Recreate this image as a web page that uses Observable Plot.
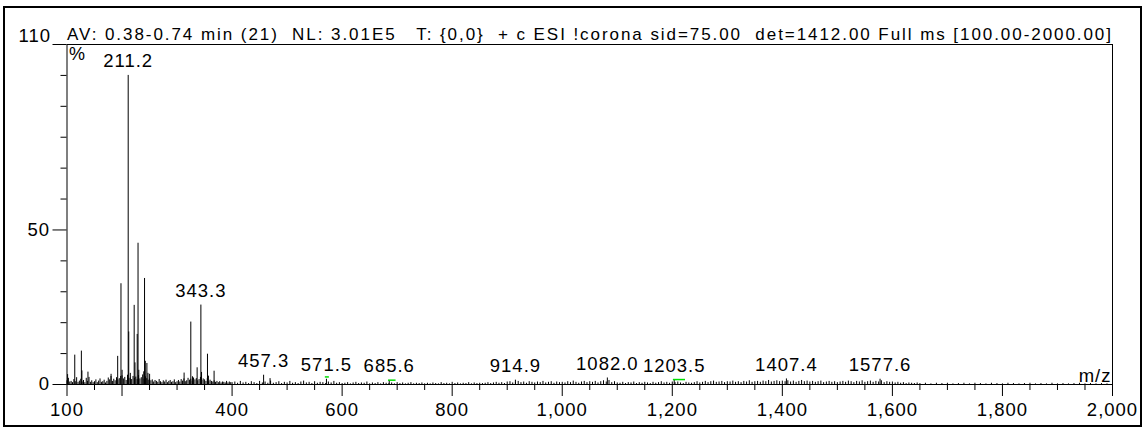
<!DOCTYPE html>
<html>
<head>
<meta charset="utf-8">
<script src="https://cdn.jsdelivr.net/npm/d3@7"></script>
<script src="https://cdn.jsdelivr.net/npm/@observablehq/plot@0.6"></script>
<style>
  html, body { margin: 0; padding: 0; background: #fff; }
  #wrap { position: relative; width: 1144px; height: 432px; overflow: hidden; background: #fff; }
  #wrap svg { position: absolute; left: 0; top: 0; }
  #wrap svg text { white-space: pre; }
  #border { position: absolute; left: 3px; top: 6px; width: 1139px; height: 421px; box-sizing: border-box; border: 2px solid #000; pointer-events: none; }
</style>
</head>
<body>
<div id="wrap"><div id="border"></div></div>
<script>
// ---- Header ----
const headerText = "AV: 0.38-0.74 min (21)  NL: 3.01E5   T: {0,0}  + c ESI !corona sid=75.00  det=1412.00 Full ms [100.00-2000.00]";

// ---- Main peaks (m/z, relative abundance %) ----
const peakMz  = [101.1, 114.1, 126.1, 127.1, 138.1, 180.1, 192.1, 198.1, 200.1, 211.2, 212.2, 215.1, 222.1, 223.5, 227.6, 229.1, 230.5, 239.5, 240.9, 242.3, 245.2, 247.1, 250.1, 312.8, 325.0, 328.0, 336.5, 343.3, 344.5, 355.3, 357.0, 367.3, 457.3, 469.0, 571.5, 685.6, 914.9, 1082.0, 1203.5, 1407.4, 1577.6];
const peakInt = [3.2, 9.5, 10.8, 4.4, 4.0, 3.3, 9.1, 32.6, 4.6, 100, 17.0, 3.6, 25.6, 7.0, 16.2, 45.7, 4.6, 4.1, 34.3, 7.5, 6.8, 3.6, 3.3, 3.7, 20.2, 2.5, 5.4, 25.7, 3.9, 9.8, 2.7, 4.3, 3.0, 1.9, 1.7, 1.3, 1.4, 2.1, 1.5, 1.8, 1.7];

// ---- Annotated peaks ----
const labelMz  = [211.2, 343.3, 457.3, 571.5, 685.6, 914.9, 1082.0, 1203.5, 1407.4, 1577.6];
const labelInt = [100, 25.7, 3.0, 1.7, 1.3, 1.4, 2.1, 1.5, 1.8, 1.7];

// ---- Baseline noise ----
const noiseAStart = 100, noiseAStep = 2.5;
const noiseA = [
  1.2, 2.0, 0.8, 1.0, 0.6, 1.6, 0.9, 2.2, 0.7, 1.1,
  1.7, 0.8, 1.3, 0.6, 2.0, 1.0, 2.3, 0.7, 1.2, 0.6,
  0.9, 1.5, 0.6, 1.1, 1.8, 0.7, 0.9, 1.4, 0.5, 1.0,
  2.1, 1.5, 2.6, 1.0, 1.7, 1.2, 2.2, 1.5, 1.9, 2.6,
  2.8, 1.8, 2.3, 1.3, 3.0, 1.9, 2.1, 1.6, 2.6, 2.0,
  2.4, 1.6, 2.9, 1.8, 2.2, 3.1, 1.7, 2.5, 1.9, 1.4,
  1.8, 1.2, 1.5, 0.8, 1.3, 1.0, 0.7, 1.6, 0.9, 0.6,
  1.2, 0.8, 1.4, 0.6, 1.0, 1.3, 0.7, 0.9, 1.5, 0.6,
  0.9, 1.3, 0.8, 1.6, 1.1, 1.8, 0.9, 1.2, 2.0, 1.4,
  1.7, 1.1, 2.1, 1.5, 1.9, 1.2, 1.6, 2.3, 1.3, 1.8,
  1.5, 1.0, 1.9, 0.9, 1.4, 1.0, 0.8, 1.2, 0.7, 1.0,
  0.6, 0.9, 0.5, 0.8, 0.7, 0.5, 1.0, 0.5, 0.8, 0.6,
  0.6
];
const noiseBStart = 405, noiseBStep = 5;
const noiseB = [
  0.8, 0.4, 1.0, 0.5, 0.7, 0.3, 0.9, 0.6, 0.3, 1.0,
  0.5, 0.8, 0.4, 1.1, 0.4, 0.6, 0.9, 0.3, 0.7, 0.5,
  1.0, 0.4, 0.6, 0.3, 0.8, 1.1, 0.5, 0.7, 0.3, 0.9,
  0.4, 0.7, 0.6, 0.3, 0.8, 0.5, 1.0, 0.4, 0.6, 0.3,
  0.4, 0.6, 0.2, 0.5, 0.7, 0.3, 0.5, 0.4, 0.8, 0.2,
  0.5, 0.3, 0.6, 0.2, 0.6, 0.4, 0.3, 0.5, 0.2, 0.6,
  0.3, 0.5, 0.2, 0.4, 0.6, 0.2, 0.4, 0.3, 0.5, 0.2,
  0.4, 0.2, 0.5, 0.3, 0.2, 0.6, 0.3, 0.4, 0.2, 0.7,
  0.3, 0.5, 0.2, 0.4, 0.3, 0.6, 0.2, 0.5, 0.3, 0.4,
  0.3, 0.4, 0.6, 0.3, 0.5, 0.7, 0.4, 0.6, 0.3, 0.8,
  0.9, 0.5, 0.7, 1.0, 0.6, 0.8, 0.4, 0.9, 0.7, 0.5,
  0.8, 0.6, 1.0, 0.5, 0.7, 0.9, 0.4, 0.8, 0.6, 0.7,
  0.5, 0.9, 0.6, 1.1, 0.7, 0.4, 0.8, 1.0, 0.6, 0.9,
  0.7, 1.0, 0.5, 0.9, 1.2, 0.8, 1.3, 0.6, 0.9, 0.5,
  0.4, 0.7, 0.3, 0.6, 0.5, 0.8, 0.3, 0.6, 0.4, 0.7,
  0.5, 0.3, 0.7, 0.4, 0.6, 0.9, 0.5, 0.7, 0.4, 0.8,
  0.6, 0.8, 0.5, 0.3, 0.7, 0.5, 0.4, 0.6, 0.9, 0.5,
  0.7, 1.0, 0.6, 0.9, 1.1, 0.7, 0.8, 1.0, 0.6, 0.9,
  0.8, 1.1, 0.7, 0.9, 0.6, 1.0, 0.8, 1.2, 0.7, 0.9,
  1.0, 0.7, 1.1, 0.9, 1.3, 0.8, 1.0, 1.2, 0.9, 1.1,
  0.9, 1.2, 0.8, 1.1, 0.7, 1.0, 1.3, 0.9, 1.1, 0.8,
  1.0, 0.7, 0.9, 1.1, 0.6, 0.8, 1.0, 0.7, 0.9, 0.6,
  0.8, 1.0, 0.7, 1.1, 0.9, 0.6, 1.0, 0.8, 1.2, 0.7,
  0.9, 1.1, 0.7, 1.0, 0.8, 1.2, 0.6, 0.9, 0.7, 0.8,
  0.5, 0.7, 0.4, 0.6, 0.3, 0.5, 0.4, 0.3, 0.5, 0.3
];
const noiseCStart = 1660, noiseCStep = 10;
const noiseC = [
  0.4, 0.2, 0.4, 0.3, 0.4, 0.2, 0.3, 0.4, 0.2, 0.4,
  0.3, 0.2, 0.4, 0.3, 0.2, 0.4, 0.3, 0.2, 0.3, 0.4,
  0.2, 0.3, 0.2, 0.4, 0.2, 0.3, 0.2, 0.3, 0.4, 0.2,
  0.3, 0.2, 0.3, 0.2, 0.2
];

// ---- Green scan markers ----
const markX1 = [569.5, 684.3, 1202.0];
const markX2 = [576.8, 698.0, 1224.0];
const markY  = [2.45, 1.4, 1.6];

// ---- Axis ticks ----
const xMajorTicks = [100, 200, 400, 600, 800, 1000, 1200, 1400, 1600, 1800, 2000];
const xLabelTicks = [100, 400, 600, 800, 1000, 1200, 1400, 1600, 1800, 2000];
const xMinorTicks = [150, 250, 300, 350, 450, 500, 550, 650, 700, 750, 850, 900, 950, 1050, 1100, 1150, 1250, 1300, 1350, 1450, 1500, 1550, 1650, 1700, 1750, 1850, 1900, 1950];
const yMajorTicks = [0, 50, 110];
const yLabelTicks = [0, 50];
const yTopLabel = [110];
const yMinorTicks = [10, 20, 30, 40, 60, 70, 80, 90, 100];

// ---- build tables ----
const stems = [];
noiseA.forEach((v, i) => stems.push({mz: noiseAStart + i * noiseAStep, y: v}));
noiseB.forEach((v, i) => stems.push({mz: noiseBStart + i * noiseBStep, y: v}));
noiseC.forEach((v, i) => stems.push({mz: noiseCStart + i * noiseCStep, y: v}));
peakMz.forEach((m, i) => stems.push({mz: m, y: peakInt[i]}));
const labels = labelMz.map((m, i) => ({mz: m, y: labelInt[i], t: m.toFixed(1)}));
const marks = markX1.map((a, i) => ({x1: a, x2: markX2[i], y: markY[i]}));
const fmt = d3.format(",");

const FONT = "'Liberation Sans', Arial, Helvetica, sans-serif";

const chart = Plot.plot({
  width: 1144,
  height: 432,
  marginLeft: 66.5,
  marginRight: 32,
  marginTop: 44,
  marginBottom: 48,
  style: {fontFamily: FONT, color: "#000", background: "transparent", overflow: "visible"},
  x: {domain: [100, 2000]},
  y: {domain: [0, 110]},
  marks: [
    Plot.ruleY([0], {stroke: "#000", strokeWidth: 1}),
    Plot.ruleX(stems, {x: "mz", y1: 0, y2: "y", stroke: "#000", strokeWidth: 1}),
    Plot.ruleY(marks, {x1: "x1", x2: "x2", y: "y", stroke: "#00dd00", strokeWidth: 1.5}),
    Plot.frame({stroke: "#000", strokeWidth: 1}),
    Plot.axisX({ticks: xMinorTicks, tickSize: 6, tickFormat: () => "", stroke: "#000"}),
    Plot.axisX({ticks: xMajorTicks, tickSize: 12, tickPadding: 6,
      tickFormat: d => xLabelTicks.includes(d) ? fmt(d) : "",
      fontSize: 18.5, fill: "#000", stroke: "#000", label: null}),
    Plot.axisY({ticks: yMinorTicks, tickSize: 6, tickFormat: () => "", stroke: "#000", label: null}),
    Plot.axisY({ticks: yMajorTicks, tickSize: 14, tickPadding: 3,
      tickFormat: d => yLabelTicks.includes(d) ? String(d) : "",
      fontSize: 18.5, fill: "#000", stroke: "#000", label: null}),
    Plot.text(yTopLabel, {y: d => d, text: d => String(d), frameAnchor: "left", dx: -16, dy: -3,
      textAnchor: "end", lineAnchor: "bottom", fontSize: 18.5, fill: "#000"}),
    Plot.text(labels, {x: "mz", y: "y", text: "t", dy: -8, lineAnchor: "bottom", textAnchor: "middle", fontSize: 18.5, fill: "#000"}),
    Plot.text([headerText], {frameAnchor: "top-left", dy: -5, lineAnchor: "bottom", textAnchor: "start", fontSize: 17, fill: "#000"}),
    Plot.text(["%"], {frameAnchor: "top-left", dx: 2, dy: 3, lineAnchor: "top", textAnchor: "start", fontSize: 18, fill: "#000"}),
    Plot.text(["m/z"], {frameAnchor: "bottom-right", dx: -1, dy: -3, lineAnchor: "bottom", textAnchor: "end", fontSize: 18.5, fill: "#000"})
  ]
});

const wrap = document.getElementById("wrap");
wrap.insertBefore(chart, wrap.firstChild);

d3.select(chart).selectAll("text").style("letter-spacing", "1px");
d3.select(chart).selectAll("text").filter(function() { return this.textContent.startsWith("AV:"); })
  .style("letter-spacing", null)
  .attr("textLength", 1044)
  .attr("lengthAdjust", "spacing");
</script>
</body>
</html>
